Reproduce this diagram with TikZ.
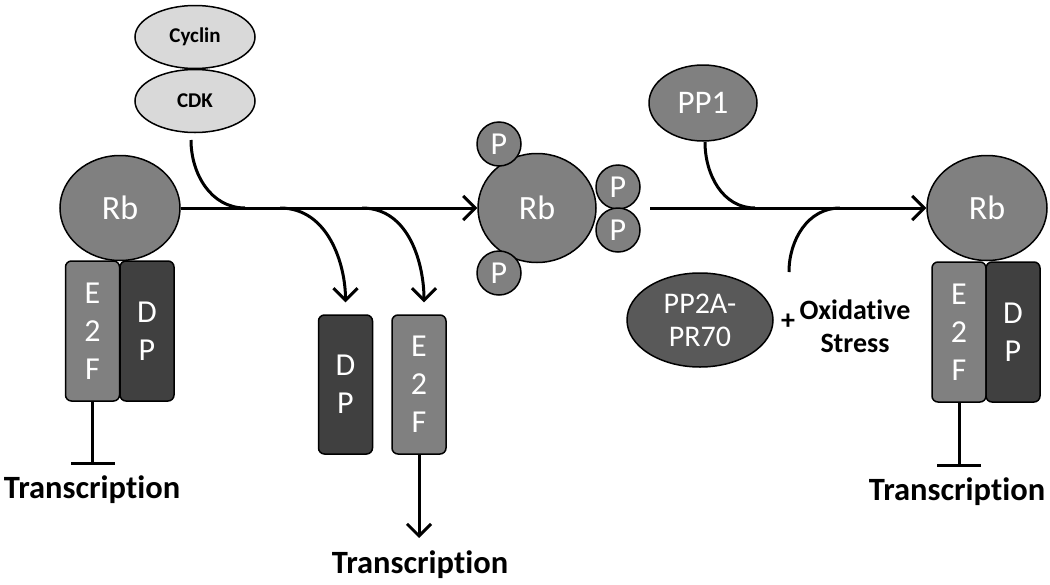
\documentclass[tikz,border=0pt]{standalone}
\usepackage{fontspec}
\setmainfont{Carlito}[Ligatures=NoCommon]
\usetikzlibrary{arrows.meta,positioning,shapes.geometric}
\definecolor{rbgray}{HTML}{808080}
\definecolor{dpgray}{HTML}{404040}
\definecolor{ppgray}{HTML}{595959}
\definecolor{cdkgray}{HTML}{D9D9D9}

\begin{document}
\begin{tikzpicture}[x=1pt,y=-1pt,
  every node/.style={inner sep=0pt,font=\fontsize{34}{38}\selectfont},
  protein/.style={ellipse,draw,line width=1.5pt,fill=rbgray,text=white},
  kinase/.style={ellipse,draw,line width=1.5pt,fill=cdkgray,minimum width=120pt,
    minimum height=63pt,font=\fontsize{21}{24}\selectfont\bfseries},
  phos/.style={circle,draw,line width=1.5pt,fill=rbgray,text=white,minimum size=44pt,
    font=\fontsize{32}{36}\selectfont},
  unit/.style={rectangle,rounded corners=6pt,draw,line width=1.5pt,text=white,
    minimum width=54pt,minimum height=140pt,align=center,
    font=\fontsize{32}{38}\selectfont},
  label/.style={font=\fontsize{32.5}{36}\selectfont\bfseries,inner sep=2pt},
  link/.style={line width=3pt},
  act/.style={line width=3pt,-{Straight Barb[length=12pt,width=24pt]}},
  block/.style={line width=3pt,-{Bar[width=44pt]}}]

  \useasboundingbox (0,0) rectangle (1050,584);

  % Kinase complex
  \node[kinase] (cyclin) at (195,37) {Cyclin};
  \node[kinase] (cdk) at (195,101) {CDK};

  % Bound Rb on the left
  \node[protein,minimum width=120pt,minimum height=105pt] (rb1) at (120,208) {Rb};
  \node[unit,fill=rbgray] (e2f1) at (92.5,331) {E\\2\\F};
  \node[unit,fill=dpgray] (dp1) at (147,331) {D\\P};
  \node[label,anchor=base] (tr1) at (92,498) {Transcription};

  % Phosphorylated Rb
  \node[protein,minimum width=118pt,minimum height=109pt] (rb2) at (537,208) {Rb};
  \foreach \n/\x/\y in {pa/499/144,pb/499/273,pc/618/187,pd/618/230}
    \node[phos] (\n) at (\x,\y) {P};

  % Released factors
  \node[unit,fill=dpgray,minimum height=139pt] (dp2) at (345.5,384.5) {D\\P};
  \node[unit,fill=rbgray,minimum height=139pt] (e2f2) at (419,384.5) {E\\2\\F};
  \node[label,anchor=base] (tr2) at (420,573) {Transcription};

  % Phosphatases
  \node[protein,minimum width=108pt,minimum height=76pt,
    font=\fontsize{33}{36}\selectfont] (pp1) at (703,103) {PP1};
  \node[protein,fill=ppgray,minimum width=146pt,minimum height=94pt,align=center,
    font=\fontsize{30}{33}\selectfont] (pp2a) at (700,320) {PP2A-\\PR70};
  \node[font=\fontsize{28}{30}\selectfont\bfseries] (plus) at (788,322) {+};
  \node[font=\fontsize{28}{33}\selectfont\bfseries,align=center] (ox) at (855,326)
    {Oxidative\\Stress};

  % Bound Rb on the right
  \node[protein,minimum width=120pt,minimum height=105pt] (rb3) at (987,208) {Rb};
  \node[unit,fill=rbgray] (e2f3) at (959,332) {E\\2\\F};
  \node[unit,fill=dpgray] (dp3) at (1013,332) {D\\P};
  \node[label,anchor=base] (tr3) at (957,500) {Transcription};

  % Junctions on the two main lines
  \coordinate (cdkin) at (191,140);
  \coordinate (cdkjoin) at (245,208);
  \coordinate (br1) at (280,208);
  \coordinate (br2) at (362,208);
  \coordinate (back) at (650,208);
  \coordinate (pp1in) at (705,142);
  \coordinate (pp1join) at (755,208);
  \coordinate (pp2in) at (789,272);
  \coordinate (pp2join) at (840,208);

  % Phosphorylation
  \draw[act] (rb1.east) -- (rb2.west);
  \draw[link] (cdkin) to[out=-90,in=180] (cdkjoin);
  \draw[act,shorten >=12pt] (br1) to[out=0,in=90] (dp2.north);
  \draw[act,shorten >=12pt] (br2) to[out=0,in=90] ([xshift=5pt]e2f2.north);

  % Dephosphorylation
  \draw[act] (back) -- (rb3.west);
  \draw[link] (pp1in) to[out=-90,in=180] (pp1join);
  \draw[link] (pp2in) to[out=90,in=180] (pp2join);

  % Effects on transcription
  \draw[block,shorten >=8pt] (e2f1.south) -- (e2f1.south |- tr1.north);
  \draw[act,shorten >=10pt] (e2f2.south) -- (e2f2.south |- tr2.north);
  \draw[block,shorten >=8pt] (e2f3.south) -- (e2f3.south |- tr3.north);
\end{tikzpicture}
\end{document}
